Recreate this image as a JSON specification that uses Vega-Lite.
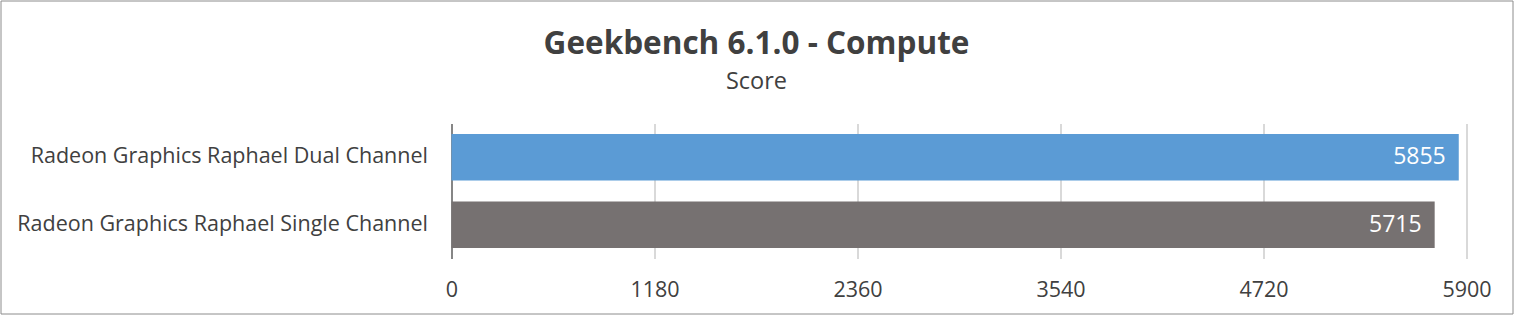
{
  "$schema": "https://vega.github.io/schema/vega-lite/v6.json",
  "width": 1512,
  "height": 313,
  "autosize": {"type": "none"},
  "padding": {"left": 0.5, "top": 0.5, "right": 1.5, "bottom": 2.5},
  "background": "white",
  "config": {
    "view": {"stroke": "#8c8c8c", "strokeWidth": 1},
    "font": "Open Sans"
  },
  "title": {
    "text": "Geekbench 6.1.0 - Compute",
    "subtitle": "Score",
    "anchor": "middle",
    "frame": "group",
    "orient": "top",
    "offset": -93,
    "font": "Open Sans",
    "fontSize": 31.5,
    "fontWeight": "bold",
    "color": "#404040",
    "subtitleFont": "Open Sans",
    "subtitleFontSize": 23.5,
    "subtitleColor": "#404040",
    "subtitlePadding": 10
  },
  "data": {
    "values": [
      {"gpu": "Radeon Graphics Raphael Dual Channel", "score": 5855, "series": "dual"},
      {"gpu": "Radeon Graphics Raphael Single Channel", "score": 5715, "series": "single"}
    ]
  },
  "encoding": {
    "y": {
      "field": "gpu",
      "type": "nominal",
      "sort": null,
      "scale": {"range": [123, 258], "paddingInner": 0.31, "paddingOuter": 0.155},
      "axis": {
        "title": null,
        "offset": -451,
        "ticks": false,
        "labelPadding": 24,
        "labelFont": "Open Sans",
        "labelFontSize": 21.5,
        "labelColor": "#404040",
        "domainColor": "#868686",
        "domainWidth": 2,
        "grid": false,
        "labelLimit": 600
      }
    },
    "x": {
      "field": "score",
      "type": "quantitative",
      "scale": {"domain": [0, 5900], "range": [451, 1466], "nice": false, "zero": true}
    }
  },
  "resolve": {"axis": {"x": "independent"}},
  "layer": [
    {
      "mark": {"type": "bar"},
      "encoding": {
        "x": {
          "field": "score",
          "type": "quantitative",
          "axis": {
            "orient": "top",
            "title": null,
            "values": [0, 1180, 2360, 3540, 4720, 5900],
            "ticks": false,
            "domain": false,
            "labels": false,
            "grid": true,
            "gridColor": "#D9D9D9",
            "gridWidth": 2
          }
        },
        "color": {
          "field": "series",
          "type": "nominal",
          "scale": {"domain": ["dual", "single"], "range": ["#5B9BD5", "#767171"]},
          "legend": null
        }
      }
    },
    {
      "mark": {"type": "text", "align": "right", "baseline": "middle", "dx": -13, "color": "white", "fontSize": 23, "font": "Open Sans"},
      "encoding": {
        "x": {
          "field": "score",
          "type": "quantitative",
          "axis": {
            "orient": "bottom",
            "title": null,
            "offset": -55,
            "values": [0, 1180, 2360, 3540, 4720, 5900],
            "format": "d",
            "ticks": false,
            "domain": false,
            "grid": false,
            "labelPadding": 21,
            "labelFont": "Open Sans",
            "labelFontSize": 21.5,
            "labelColor": "#404040",
            "labelFlush": false
          }
        },
        "text": {"field": "score", "type": "quantitative", "format": "d"}
      }
    }
  ]
}
